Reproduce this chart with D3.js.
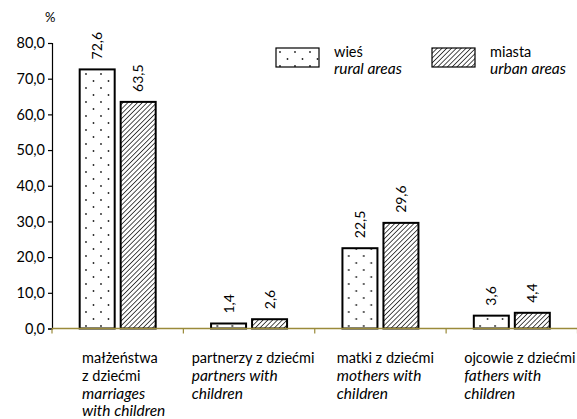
<!DOCTYPE html>
<html>
<head>
<meta charset="utf-8">
<script src="https://cdn.jsdelivr.net/npm/d3@7"></script>
<style>
  html, body { margin: 0; padding: 0; background: #fff; }
  svg { display: block; font-family: Lato, "Open Sans", sans-serif; }
</style>
</head>
<body>
<svg id="chart" width="577" height="419"></svg>
<script>
// Household types with children, share in percent
const categoriesPl = [["małżeństwa", "z dziećmi"], ["partnerzy z dziećmi"], ["matki z dziećmi"], ["ojcowie z dziećmi"]];
const categoriesEn = [["marriages", "with children"], ["partners with", "children"], ["mothers with", "children"], ["fathers with", "children"]];
const seriesKeys = ["rural", "urban"];
const seriesPl = ["wieś", "miasta"];
const seriesEn = ["rural areas", "urban areas"];
const ruralValues = [72.6, 1.4, 22.5, 3.6];
const urbanValues = [63.5, 2.6, 29.6, 4.4];
const yTicks = [0, 10, 20, 30, 40, 50, 60, 70, 80];

const svg = d3.select("#chart");
const fmt = v => d3.format(".1f")(v).replace(".", ",");
const FS = 14.5;   // upright text
const FSI = 15.5;  // italic text

const plotLeft = 52, plotRight = 577.5, plotTop = 43, plotBottom = 328.5;

const x0 = d3.scaleBand().domain(d3.range(categoriesPl.length)).range([plotLeft, plotRight]).paddingInner(0).paddingOuter(0);
const bw = x0.bandwidth();
const x1 = d3.scaleBand().domain(seriesKeys).range([bw / 2 - 38, bw / 2 + 38]).paddingInner(6 / 41);
const y = d3.scaleLinear().domain([0, 80]).range([plotBottom, plotTop]);

// Fill patterns
const defs = svg.append("defs");
const dots = defs.append("pattern").attr("id", "dots").attr("patternUnits", "userSpaceOnUse")
  .attr("width", 15).attr("height", 14);
dots.append("rect").attr("width", 15).attr("height", 14).attr("fill", "#fff");
dots.append("circle").attr("cx", 4).attr("cy", 4).attr("r", 0.9).attr("fill", "#222");
dots.append("circle").attr("cx", 11.5).attr("cy", 11).attr("r", 0.9).attr("fill", "#222");

const hatch = defs.append("pattern").attr("id", "hatch").attr("patternUnits", "userSpaceOnUse")
  .attr("width", 3.4).attr("height", 3.4).attr("patternTransform", "rotate(45)");
hatch.append("rect").attr("width", 3.4).attr("height", 3.4).attr("fill", "#fff");
hatch.append("line").attr("x1", 0).attr("y1", 0).attr("x2", 0).attr("y2", 3.4)
  .attr("stroke", "#222").attr("stroke-width", 1.6);

const fills = { rural: "url(#dots)", urban: "url(#hatch)" };

const rows = categoriesPl.map((c, i) => ({ i, rural: ruralValues[i], urban: urbanValues[i] }));

// Bars
const groups = svg.append("g").selectAll("g").data(rows).join("g")
  .attr("transform", d => `translate(${x0(d.i)},0)`);

groups.selectAll("rect").data(d => seriesKeys.map(k => ({ k, v: d[k] }))).join("rect")
  .attr("x", d => x1(d.k))
  .attr("y", d => y(d.v))
  .attr("width", x1.bandwidth())
  .attr("height", d => y(0) - y(d.v))
  .attr("fill", d => fills[d.k])
  .attr("stroke", "#000")
  .attr("stroke-width", 2);

// Value labels (rotated)
groups.selectAll("text").data(d => seriesKeys.map(k => ({ k, v: d[k] }))).join("text")
  .attr("transform", d => `translate(${x1(d.k) + x1.bandwidth() / 2 + 5},${y(d.v) - 10}) rotate(-90)`)
  .attr("font-size", 14)
  .attr("fill", "#000")
  .text(d => fmt(d.v));

// Y axis
const yAxis = svg.append("g").attr("transform", `translate(${plotLeft},0)`)
  .call(d3.axisLeft(y).tickValues(yTicks).tickFormat(fmt).tickSize(4).tickPadding(3));
yAxis.select(".domain").attr("stroke", "#000").attr("stroke-width", 1.2);
yAxis.selectAll(".tick line").attr("stroke", "#000").attr("stroke-width", 1.2);
yAxis.selectAll("text").attr("font-size", FS).attr("font-family", "Lato, 'Open Sans', sans-serif").attr("fill", "#000");

svg.append("text").attr("x", 45).attr("y", 22).attr("font-size", 13).text("%");

// X axis line with category boundary ticks
const xAxisG = svg.append("g");
xAxisG.append("line").attr("x1", plotLeft).attr("x2", plotRight).attr("y1", plotBottom).attr("y2", plotBottom)
  .attr("stroke", "#9a8a3a").attr("stroke-width", 1.4);
xAxisG.selectAll("line.tk").data(d3.range(categoriesPl.length + 1)).join("line")
  .attr("class", "tk")
  .attr("x1", i => plotLeft + i * bw).attr("x2", i => plotLeft + i * bw)
  .attr("y1", plotBottom).attr("y2", plotBottom + 5)
  .attr("stroke", "#9a8a3a").attr("stroke-width", 1.2);

// Category labels: Polish lines upright, English lines italic, block centered in band
const offsets = [6, 4, 5, 8];
categoriesPl.forEach((pl, i) => {
  const lines = pl.map(t => ({ t, it: false })).concat(categoriesEn[i].map(t => ({ t, it: true })));
  const g = svg.append("g");
  const texts = g.selectAll("text").data(lines).join("text")
    .attr("y", (d, j) => 363 + j * 17.8)
    .attr("font-size", d => d.it ? FSI : FS)
    .attr("font-style", d => d.it ? "italic" : "normal")
    .attr("fill", "#000")
    .text(d => d.t);
  let w = 0;
  texts.each(function () { w = Math.max(w, this.getComputedTextLength()); });
  const cx = x0(i) + bw / 2 + offsets[i];
  texts.attr("x", Math.min(cx - w / 2, 576 - w));
});

// Legend
const legendX = [276, 432];
seriesKeys.forEach((k, i) => {
  const g = svg.append("g").attr("transform", `translate(${legendX[i]},48)`);
  g.append("rect").attr("width", 43).attr("height", 19).attr("fill", fills[k])
    .attr("stroke", "#000").attr("stroke-width", 1.2);
  g.append("text").attr("x", 58).attr("y", 9).attr("font-size", FS).text(seriesPl[i]);
  g.append("text").attr("x", 58).attr("y", 26).attr("font-size", FSI).attr("font-style", "italic").text(seriesEn[i]);
});
</script>
</body>
</html>
